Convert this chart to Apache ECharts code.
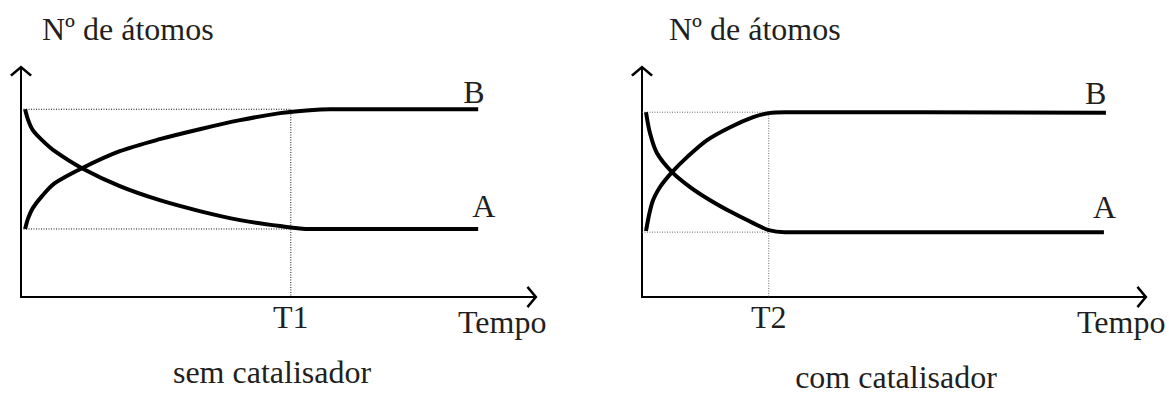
<!DOCTYPE html>
<html>
<head>
<meta charset="utf-8">
<script src="https://cdn.jsdelivr.net/npm/echarts@6/dist/echarts.min.js"></script>
<style>
html, body { margin: 0; padding: 0; background: #fff; }
#chart { width: 1169px; height: 394px; }
</style>
</head>
<body>
<div id="chart"></div>
<script>
// time axis in arbitrary units (0..100), atom count in arbitrary units (0..100)
var semTime = [0.8, 1.4, 2.3, 4.1, 6.6, 11.9, 19.3, 27.1, 34.9, 42.8, 50.6, 56.4, 60.4, 89.3];
var semB    = [30.0, 34.8, 39.2, 44.5, 50.2, 56.8, 64.3, 69.6, 74.0, 78.0, 81.1, 82.4, 82.8, 82.8];
var semA    = [82.8, 78.0, 73.6, 69.2, 64.3, 56.8, 48.9, 42.7, 37.9, 33.9, 31.3, 30.0, 30.0, 30.0];

var comTimeB = [0.8, 2.0, 3.6, 6.0, 9.0, 13.0, 17.6, 22.2, 25.3, 28.5, 92.6];
var comB     = [29.1, 41.4, 48.5, 55.1, 61.7, 69.2, 74.9, 79.3, 81.1, 81.5, 81.3];
var comTimeA = [0.8, 1.6, 3.0, 6.0, 9.6, 13.6, 18.2, 22.2, 25.3, 28.5, 92.2];
var comA     = [81.5, 72.2, 63.4, 55.1, 48.5, 42.7, 37.0, 32.6, 29.5, 28.6, 28.6];

var T1 = 52.7, T2 = 25.3;
var semTop = 82.8, semBottom = 30.0;
var comTop = 81.5, comBottom = 28.6;

var yName = 'Nº de átomos';
var xName = 'Tempo';
var captions = ['sem catalisador', 'com catalisador'];

var font = '"Liberation Serif", "Times New Roman", serif';
var ink = '#231f20';
// open chevron used as axis arrow head
var arrow = 'path://M0,10 L12,0 L24,10 L22,12 L12,3.6 L2,12 Z';

function pairs(xs, ys) {
  return xs.map(function (x, i) { return [x, ys[i]]; });
}

function xAxisFor(idx, t, label, gap) {
  return {
    gridIndex: idx, type: 'value', min: 0, max: 100.4,
    axisLine: { show: true, lineStyle: { color: '#000', width: 2 },
      symbol: ['none', arrow], symbolSize: [23, 11], symbolOffset: [0, -3] },
    axisTick: { show: false },
    splitLine: { show: false },
    axisLabel: { show: true, customValues: [t], formatter: function () { return label; },
      margin: 4, fontFamily: font, fontSize: 32, color: ink },
    name: xName, nameLocation: 'end', nameGap: gap,
    nameTextStyle: { fontFamily: font, fontSize: 32, color: ink, align: 'left',
      verticalAlign: 'top', lineHeight: 50 }
  };
}

function yAxisFor(idx, pad) {
  return {
    gridIndex: idx, type: 'value', min: 0, max: 101,
    axisLine: { show: true, lineStyle: { color: '#000', width: 2 },
      symbol: ['none', arrow], symbolSize: [23, 11], symbolOffset: [0, -3] },
    axisTick: { show: false },
    splitLine: { show: false },
    axisLabel: { show: false },
    name: yName, nameLocation: 'end', nameGap: 39,
    nameTextStyle: { fontFamily: font, fontSize: 32, color: ink, align: 'left',
      verticalAlign: 'middle', padding: [0, 0, 0, pad] }
  };
}

function curve(idx, name, data, off) {
  return {
    type: 'line', name: name, xAxisIndex: idx, yAxisIndex: idx,
    data: data, smooth: 0.3, showSymbol: false,
    lineStyle: { color: '#000', width: 4 },
    endLabel: { show: true, formatter: name, distance: 0, offset: off,
      fontFamily: font, fontSize: 32, color: ink }
  };
}

function guide(idx, data, color) {
  return {
    type: 'line', xAxisIndex: idx, yAxisIndex: idx, data: data,
    showSymbol: false, silent: true,
    lineStyle: { color: color, width: 1, type: [1, 1.5] }
  };
}

var myChart = echarts.init(document.getElementById('chart'), null, { renderer: 'svg' });
var option = {
  animation: false,
  backgroundColor: '#fff',
  grid: [
    { left: 21, top: 68, width: 514, height: 229 },
    { left: 642, top: 68, width: 503, height: 229 }
  ],
  xAxis: [xAxisFor(0, T1, 'T1', -77), xAxisFor(1, T2, 'T2', -68)],
  yAxis: [yAxisFor(0, 21), yAxisFor(1, 27)],
  graphic: [
    { type: 'text', x: 272, y: 372, style: { text: captions[0], font: '32px ' + font,
      fill: ink, textAlign: 'center', textVerticalAlign: 'middle' } },
    { type: 'text', x: 896, y: 377, style: { text: captions[1], font: '32px ' + font,
      fill: ink, textAlign: 'center', textVerticalAlign: 'middle' } }
  ],
  series: [
    guide(0, [[0, semTop], [T1, semTop], [T1, 0]], '#111'),
    guide(0, [[0, semBottom], [T1, semBottom]], '#111'),
    curve(0, 'B', pairs(semTime, semB), [-15, -17]),
    curve(0, 'A', pairs(semTime, semA), [-6, -23]),
    guide(1, [[0, comTop], [T2, comTop], [T2, 0]], '#666'),
    guide(1, [[0, comBottom], [T2, comBottom]], '#666'),
    curve(1, 'B', pairs(comTimeB, comB), [-21, -20]),
    curve(1, 'A', pairs(comTimeA, comA), [-11, -25])
  ]
};
myChart.setOption(option);
</script>
</body>
</html>
